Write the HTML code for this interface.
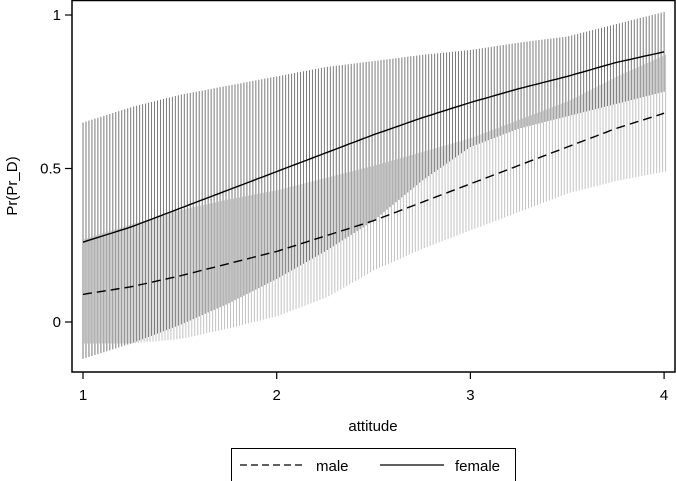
<!DOCTYPE html>
<html><head><meta charset="utf-8"><style>body{margin:0;background:#fff}svg{display:block;font-family:"Liberation Sans",sans-serif}</style></head>
<body>
<svg id="c" width="676" height="481">
<rect x="72" y="0.5" width="603" height="371.5" fill="none" stroke="#000" stroke-width="1.5"/>
<g id="marks"></g>
<g id="axes"></g>
<text x="373" y="431" text-anchor="middle" font-size="15">attitude</text>
<text transform="translate(17,186) rotate(-90)" text-anchor="middle" font-size="15">Pr(Pr_D)</text>
<g>
<rect x="231.5" y="448.5" width="284" height="33" fill="#fff" stroke="#000"/>
<line x1="240" y1="465" x2="306" y2="465" stroke="#000" stroke-width="1.3" stroke-dasharray="7,4"/>
<text x="316" y="471" font-size="15">male</text>
<line x1="380" y1="465" x2="444" y2="465" stroke="#000" stroke-width="1.3"/>
<text x="455" y="471" font-size="15">female</text>
</g>
</svg>
<script>
const xs=[1,1.25,1.5,1.75,2,2.25,2.5,2.75,3,3.25,3.5,3.75,4];
const femaleMean=[.26,.31,.37,.43,.49,.55,.61,.665,.715,.76,.80,.845,.88];
const femaleUp=[.65,.70,.74,.77,.80,.83,.85,.87,.886,.91,.93,.97,1.01];
const femaleLo=[-.12,-.07,-.01,.06,.14,.23,.33,.46,.57,.63,.67,.71,.75];
const maleMean=[.09,.115,.15,.19,.23,.28,.33,.39,.45,.51,.57,.63,.68];
const maleUp=[.27,.32,.365,.40,.43,.47,.51,.555,.60,.66,.72,.80,.87];
const maleLo=[-.07,-.07,-.055,-.02,.02,.08,.17,.24,.30,.36,.42,.46,.49];
const xTicks=[1,2,3,4];
const yTicks=[0,0.5,1];
const yTickLabels=["0","0.5","1"];
const NS="http://www.w3.org/2000/svg";
const X=v=>83+(v-1)*193.7;
const Y=v=>322-v*307;
function interp(arr,v){const s=(v-xs[0])/(xs[1]-xs[0]);let i=Math.min(Math.floor(s),xs.length-2);const t=s-i;return arr[i]*(1-t)+arr[i+1]*t;}
function mk(tag,at,parent){const e=document.createElementNS(NS,tag);for(const k in at)e.setAttribute(k,at[k]);parent.appendChild(e);return e;}
const marks=document.getElementById('marks'),axes=document.getElementById('axes');
const N=195;
const gm=mk('g',{},marks);


const gf=mk('g',{},marks);


for(let k=0;k<=N;k++){const v=1+3*k/N;const px=X(v);
 const l=mk('line',{x1:px+1.5,x2:px+1.5,y1:Y(interp(maleUp,v)),y2:Y(interp(maleLo,v)),stroke:'#c2c2c2','stroke-width':1},gm);
 
 
 const f=mk('line',{x1:px,x2:px,y1:Y(interp(femaleUp,v)),y2:Y(interp(femaleLo,v)),stroke:'#7a7a7a','stroke-width':1},gf);
 
 
}
function path(arr){let d='';for(let k=0;k<=120;k++){const v=1+3*k/120;d+=(k?'L':'M')+X(v).toFixed(1)+','+Y(interp(arr,v)).toFixed(1);}return d;}
const pm=mk('path',{d:path(maleMean),fill:'none',stroke:'#000','stroke-width':1.4,'stroke-dasharray':'9,5'},marks);


const pf=mk('path',{d:path(femaleMean),fill:'none',stroke:'#000','stroke-width':1.4},marks);


xTicks.forEach(t=>{const l=mk('line',{x1:X(t),x2:X(t),y1:372,y2:379,stroke:'#000','stroke-width':1.2},axes);
 
 
 const tx=mk('text',{x:X(t),y:400,'text-anchor':'middle','font-size':15},axes);tx.textContent=t;
 
 });
yTicks.forEach((t,i)=>{const l=mk('line',{x1:65,x2:72,y1:Y(t),y2:Y(t),stroke:'#000','stroke-width':1.2},axes);
 
 
 const tx=mk('text',{x:61,y:Y(t)+5,'text-anchor':'end','font-size':15},axes);tx.textContent=yTickLabels[i];
 
 });
</script>
</body></html>
